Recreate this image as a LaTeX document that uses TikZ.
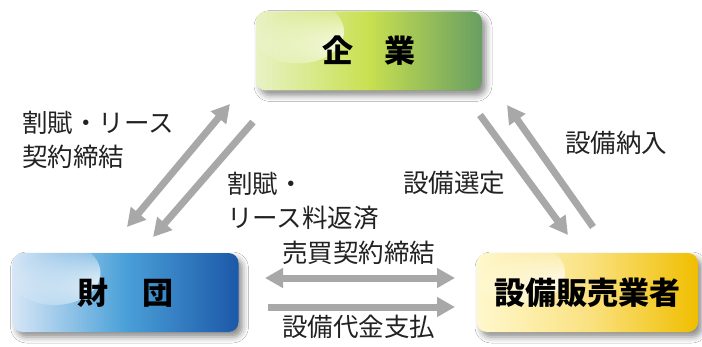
\documentclass[tikz,border=0pt]{standalone}
\usepackage{fontspec}
\newfontfamily\jp{Noto Sans CJK JP}
\usetikzlibrary{arrows.meta,shadows.blur,fadings}
\tikzfading[name=glow, inner color=transparent!0, outer color=transparent!100]
\definecolor{arrgray}{HTML}{A8A8A8}
\definecolor{txtgray}{HTML}{222222}
\tikzset{
  x=1pt, y=1pt,
  box/.style={minimum width=226pt, minimum height=79pt, rounded corners=10pt,
    inner sep=0pt, text=black,
    font=\jp\bfseries\fontsize{31}{31}\selectfont,
    blur shadow={shadow xshift=4pt, shadow yshift=-5pt, shadow blur radius=6pt, shadow opacity=45},
    path picture={\fill[white, path fading=glow]
      ([xshift=42pt,yshift=-20pt]path picture bounding box.north west) ellipse (46pt and 32pt);}},
  tipa/.tip={Triangle[width=19pt,length=18pt]},
  arr/.style={draw=arrgray, line width=7pt, -tipa},
  darr/.style={draw=arrgray, line width=7pt, tipa-tipa},
  lbl/.style={font=\jp\fontsize{25.5}{34}\selectfont, text=txtgray, inner sep=0pt, align=left, anchor=west},
}
\begin{document}
\begin{tikzpicture}
\useasboundingbox (0,0) rectangle (702,346);
\fill[white] (0,0) rectangle (702,346);
% boxes
\node[box, left color={rgb,255:red,232;green,242;blue,196}, right color={rgb,255:red,104;green,158;blue,98}, middle color={rgb,255:red,200;green,224;blue,80}] (kigyo) at (369,295) {企\hspace{1em}業};
\node[box, left color={rgb,255:red,215;green,230;blue,246}, right color={rgb,255:red,28;green,88;blue,168}, middle color={rgb,255:red,74;green,160;blue,216}] (zaidan) at (125.5,53.5) {財\hspace{1.1em}団};
\node[box, minimum width=221pt, left color={rgb,255:red,255;green,248;blue,205}, right color={rgb,255:red,240;green,190;blue,0}, middle color={rgb,255:red,250;green,226;blue,130}] (hanbai) at (587.5,53.5) {設備販売業者};
% arrow end points
\coordinate (a1s) at (127,119); \coordinate (a1e) at (230,242);
\coordinate (a2s) at (253,224); \coordinate (a2e) at (153,109);
\coordinate (a3s) at (480,231); \coordinate (a3e) at (568,111);
\coordinate (a4s) at (593,119); \coordinate (a4e) at (507,241);
\coordinate (a5s) at (265,68);  \coordinate (a5e) at (455,68);
\coordinate (a6s) at (268,39);  \coordinate (a6e) at (455,39);
\draw[darr] (a1s) -- (a1e);
\draw[arr] (a2s) -- (a2e);
\draw[arr] (a3s) -- (a3e);
\draw[arr] (a4s) -- (a4e);
\draw[darr] (a5s) -- (a5e);
\draw[arr] (a6s) -- (a6e);
% labels
\node[lbl] (l1) at (22,206) {割賦・リース\\契約締結};
\node[lbl] (l2) at (227,145) {割賦・\\リース料返済};
\node[lbl] (l3) at (403,163) {設備選定};
\node[lbl] (l4) at (565,203) {設備納入};
\node[lbl] (l5) at (282,93) {売買契約締結};
\node[lbl] (l6) at (282,19) {設備代金支払};
\end{tikzpicture}
\end{document}
